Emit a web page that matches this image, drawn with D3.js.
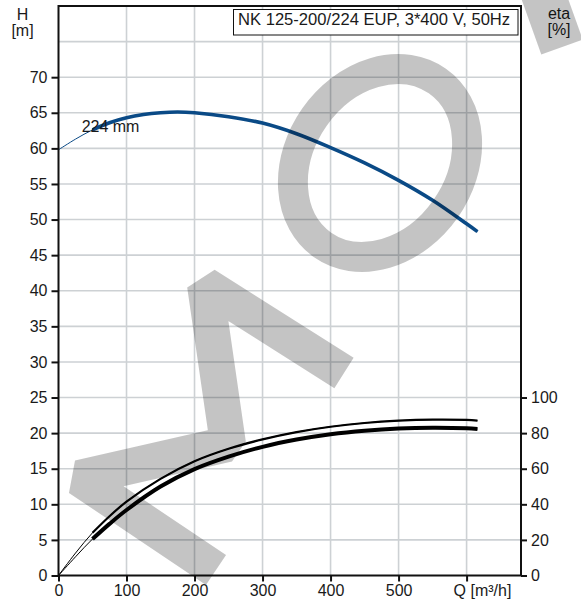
<!DOCTYPE html>
<meta charset='utf-8'>
<title>NK 125-200/224 EUP pump curve</title>
<style>
html, body {
  margin: 0;
  padding: 0;
  background: #fff;
}
text {
  font-family: 'Liberation Sans', Arial, sans-serif;
  font-size: 16px;
  fill: #1a1a1a;
}
</style>
<script src='https://cdn.jsdelivr.net/npm/d3@7'></script>
<body>
<svg id='chart' width='581' height='601'></svg>
<script>
// Head curve, Q [m3/h] -> H [m]
var qHead = [0, 25, 50, 75, 100, 125, 150, 175, 200, 250, 300, 350, 400, 450, 500, 550, 600, 616];
var head  = [59.8, 61.3, 62.6, 63.6, 64.3, 64.75, 65.0, 65.1, 65.0, 64.45, 63.55, 62.05, 60.1, 57.95, 55.5, 52.7, 49.4, 48.3];

// Efficiency curves, Q [m3/h] -> eta [%]
var qEta     = [0, 25, 50, 75, 100, 150, 200, 250, 300, 350, 400, 450, 500, 550, 600, 616];
var etaUpper = [0, 12.6, 24, 33.3, 41.5, 54.3, 64.2, 71.2, 76.5, 80.6, 83.6, 85.7, 87.0, 87.6, 87.4, 87.0];
var etaLower = [0, 10.5, 20.5, 29, 36.8, 50.0, 59.8, 66.8, 72.3, 76.4, 79.4, 81.4, 82.6, 83.0, 82.7, 82.3];

// Ticks and labels
var hTicks   = [0, 5, 10, 15, 20, 25, 30, 35, 40, 45, 50, 55, 60, 65, 70];
var etaTicks = [0, 20, 40, 60, 80, 100];
var qTicks   = [0, 100, 200, 300, 400, 500, 600];
var qGrid    = [100, 200, 300, 400, 500, 600];
var hGrid    = [5, 10, 15, 20, 25, 30, 35, 40, 45, 50, 55, 60, 65, 70, 75];
var title    = 'NK 125-200/224 EUP, 3*400 V, 50Hz';
var curveName = '224 mm';
var opStart = 50; // below this flow the curves are drawn thin

var blue = '#0a4a86';
var gridColor = '#cdd1d4';

var svg = d3.select('#chart');
// note: "top" is taken by window.top, so prefix these
var plotL = 58.5, plotR = 521, plotT = 6, plotB = 575.5;

var x = d3.scaleLinear().domain([0, 680]).range([plotL, plotR]);
var yH = d3.scaleLinear().domain([0, 80]).range([plotB, plotT]);
// eta 100 % sits level with H = 25 m
var yEta = d3.scaleLinear().domain([0, 100]).range([plotB, yH(25)]);

// Grid
svg.append('g').selectAll('line')
  .data(hGrid).enter().append('line')
  .attr('x1', plotL).attr('x2', plotR)
  .attr('y1', function (d) { return yH(d); })
  .attr('y2', function (d) { return yH(d); })
  .attr('stroke', gridColor).attr('stroke-width', 1.6);

svg.append('g').selectAll('line')
  .data(qGrid).enter().append('line')
  .attr('x1', function (d) { return x(d); })
  .attr('x2', function (d) { return x(d); })
  .attr('y1', plotT).attr('y2', plotB)
  .attr('stroke', gridColor).attr('stroke-width', 1.6);

// Title box
svg.append('rect')
  .attr('x', 233.5).attr('y', 9.5)
  .attr('width', 284.5).attr('height', 25.5)
  .attr('fill', '#fff').attr('stroke', '#111').attr('stroke-width', 1);
svg.append('text')
  .attr('x', 238).attr('y', 24.5)
  .style('font-size', '16.6px')
  .text(title);

function pairs(qs, vs, from) {
  return qs.map(function (q, i) { return [q, vs[i]]; })
    .filter(function (p) { return p[0] >= from; });
}

var lineH = d3.line()
  .x(function (d) { return x(d[0]); })
  .y(function (d) { return yH(d[1]); })
  .curve(d3.curveCatmullRom.alpha(0.5));
var lineEta = d3.line()
  .x(function (d) { return x(d[0]); })
  .y(function (d) { return yEta(d[1]); })
  .curve(d3.curveCatmullRom.alpha(0.5));

var curves = svg.append('g').attr('fill', 'none');

// thin full-range lines
curves.append('path').attr('d', lineH(pairs(qHead, head, 0)))
  .attr('stroke', blue).attr('stroke-width', 1);
curves.append('path').attr('d', lineEta(pairs(qEta, etaUpper, 0)))
  .attr('stroke', '#000').attr('stroke-width', 1);
curves.append('path').attr('d', lineEta(pairs(qEta, etaLower, 0)))
  .attr('stroke', '#000').attr('stroke-width', 1);

// thick operating range
curves.append('path').attr('d', lineH(pairs(qHead, head, opStart)))
  .attr('stroke', blue).attr('stroke-width', 3.6);
curves.append('path').attr('d', lineEta(pairs(qEta, etaUpper, opStart)))
  .attr('stroke', '#000').attr('stroke-width', 2.2);
curves.append('path').attr('d', lineEta(pairs(qEta, etaLower, opStart)))
  .attr('stroke', '#000').attr('stroke-width', 4);

svg.append('text')
  .attr('x', x(34)).attr('y', yH(62.35))
  .text(curveName);

// Axes
function styleAxis(g) {
  g.select('.domain').remove();
  g.selectAll('.tick line').attr('stroke', '#111').attr('stroke-width', 2);
  g.selectAll('.tick text')
    .attr('font-family', null).attr('font-size', null)
    .style('font-size', '16px').attr('fill', '#1a1a1a');
}

svg.append('g')
  .attr('transform', 'translate(' + plotL + ',0)')
  .call(d3.axisLeft(yH).tickValues(hTicks).tickSize(7).tickPadding(4))
  .call(styleAxis);

svg.append('g')
  .attr('transform', 'translate(' + plotR + ',0)')
  .call(d3.axisRight(yEta).tickValues(etaTicks).tickSize(6).tickPadding(4))
  .call(styleAxis);

var xAxis = svg.append('g')
  .attr('transform', 'translate(0,' + plotB + ')')
  .call(d3.axisBottom(x).tickValues(qTicks).tickSize(6).tickPadding(3)
    .tickFormat(function (d) { return d === 600 ? '' : d; }))
  .call(styleAxis);

xAxis.append('text')
  .attr('x', x(600) - 13).attr('y', 20.5)
  .attr('text-anchor', 'start')
  .style('font-size', '16px').attr('fill', '#1a1a1a')
  .text('Q [m³/h]');

// Frame
svg.append('rect')
  .attr('x', plotL).attr('y', plotT)
  .attr('width', plotR - plotL).attr('height', plotB - plotT)
  .attr('fill', 'none').attr('stroke', '#111').attr('stroke-width', 2);

// Axis titles
svg.append('text').attr('x', 22.5).attr('y', 19.5).attr('text-anchor', 'middle').text('H');
svg.append('text').attr('x', 22.5).attr('y', 35.5).attr('text-anchor', 'middle').text('[m]');
svg.append('text').attr('x', 559).attr('y', 19).attr('text-anchor', 'middle').text('eta');
svg.append('text').attr('x', 559).attr('y', 35).attr('text-anchor', 'middle').text('[%]');

// Watermark (decoration, pixel space)
var wm = svg.append('g')
  .attr('fill', 'none')
  .attr('stroke', '#000')
  .attr('stroke-opacity', 0.23)
  .style('pointer-events', 'none');

wm.append('path')
  .attr('d', d3.line()([[216, 570], [79, 478], [228, 444], [205, 285], [344, 373]]))
  .attr('stroke-width', 36)
  .attr('stroke-linejoin', 'bevel');

wm.append('ellipse')
  .attr('rx', 100).attr('ry', 80)
  .attr('transform', 'translate(380,163) rotate(-55)')
  .attr('stroke-width', 30);

wm.append('path')
  .attr('d', d3.line()([[562, 47], [538, -20]]))
  .attr('stroke-width', 44);
</script>
</body>
